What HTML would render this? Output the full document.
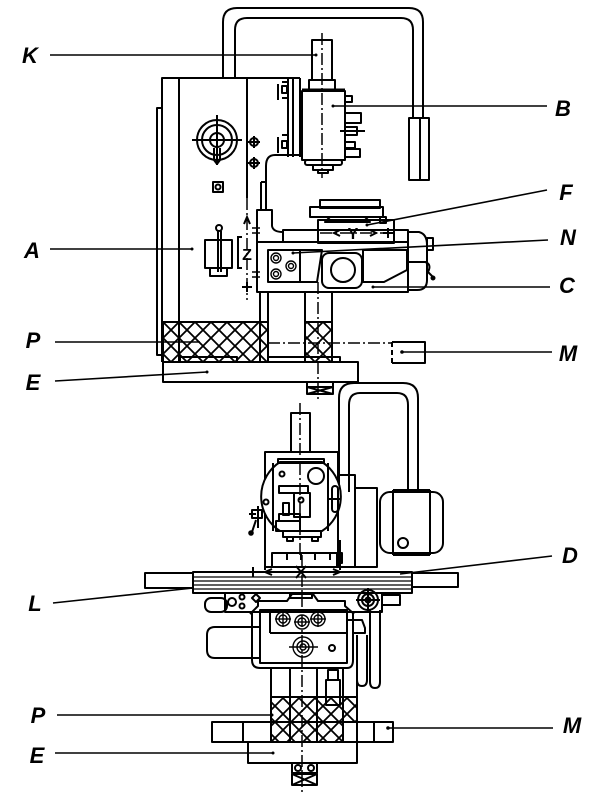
<!DOCTYPE html>
<html><head><meta charset="utf-8"><style>
html,body{margin:0;padding:0;background:#fff;}
svg{display:block;}
.l{font-family:"Liberation Sans",sans-serif;font-style:italic;font-weight:bold;font-size:22px;fill:#000;}
</style></head><body>
<svg width="600" height="800" viewBox="0 0 600 800" xmlns="http://www.w3.org/2000/svg">
<defs>
<pattern id="h" width="16" height="16" patternUnits="userSpaceOnUse" x="3" y="2">
<path d="M0,0 L16,16 M16,0 L0,16" stroke="#000" stroke-width="1.8"/>
</pattern>
</defs>
<g fill="none" stroke="#000" stroke-width="2" stroke-linejoin="round">
<!-- ===== TOP VIEW ===== -->
<path d="M223,78 V22 Q223,8 237,8 H409 Q423,8 423,22 V118"/>
<path d="M235,78 V30 Q235,18 247,18 H401 Q413,18 413,30 V118"/>
<rect x="409" y="118" width="20" height="62"/>
<line x1="420" y1="118" x2="420" y2="180"/>
<rect x="157" y="108" width="5" height="247"/>
<path d="M162,362 V78 H300"/>
<line x1="179" y1="78" x2="179" y2="362"/>
<line x1="247" y1="78" x2="247" y2="198"/>
<line x1="288" y1="78" x2="288" y2="157"/>
<line x1="293" y1="78" x2="293" y2="157"/>
<line x1="300" y1="78" x2="300" y2="157"/>
<path d="M282,82 H288 M278,84 V100 M282,98 H288"/>
<rect x="282" y="86" width="5" height="7"/>
<path d="M282,135 H288 M278,137 V153 M282,155 H288"/>
<rect x="282" y="141" width="5" height="7"/>
<path d="M300,155 H275 Q266,155 266,166 V210"/>
<line x1="261" y1="182" x2="261" y2="210"/>
<line x1="261" y1="182" x2="266" y2="182"/>
<rect x="312" y="40" width="20" height="40"/>
<rect x="309" y="80" width="26" height="10"/>
<line x1="302" y1="90" x2="345" y2="90" stroke-width="3"/>
<rect x="302" y="91" width="43" height="69"/>
<rect x="305" y="160" width="37" height="5" rx="2"/>
<rect x="313" y="165" width="20" height="5"/>
<rect x="318" y="170" width="10" height="3"/>
<rect x="345" y="96" width="7" height="6"/>
<rect x="345" y="113" width="16" height="10"/>
<rect x="345" y="127" width="12" height="8"/>
<line x1="340" y1="131" x2="365" y2="131"/>
<rect x="345" y="142" width="10" height="6"/>
<rect x="345" y="149" width="15" height="8"/>
<circle cx="217" cy="140" r="20"/>
<circle cx="217" cy="140" r="15"/>
<circle cx="217" cy="140" r="7"/>
<line x1="192" y1="140" x2="242" y2="140"/>
<line x1="217" y1="115" x2="217" y2="165"/>
<path d="M214,148 L214,160 L217,164 L220,160 L220,148"/>
<circle cx="254" cy="142" r="4"/>
<line x1="248" y1="142" x2="260" y2="142"/><line x1="254" y1="136" x2="254" y2="148"/>
<circle cx="254" cy="163" r="4"/>
<line x1="248" y1="163" x2="260" y2="163"/><line x1="254" y1="157" x2="254" y2="169"/>
<rect x="213" y="182" width="10" height="10"/>
<circle cx="218" cy="187" r="2.5"/>
<rect x="205" y="240" width="27" height="28"/>
<rect x="210" y="268" width="17" height="8"/>
<line x1="218" y1="231" x2="218" y2="272"/>
<line x1="221" y1="231" x2="221" y2="272"/>
<circle cx="219" cy="228" r="3"/>
<path d="M257,292 V210 H272 V226 Q273,232 283,232"/>
<rect x="283" y="230" width="125" height="12"/>
<rect x="257" y="242" width="151" height="50"/>
<path d="M408,232 H419 Q427,234 427,245 V280 Q427,290 417,290 H408"/>
<line x1="408" y1="262" x2="427" y2="262"/>
<rect x="427" y="238" width="6" height="12"/>
<path d="M425,262 Q432,264 428,272 L433,277"/>
<circle cx="433" cy="278" r="1.5" fill="#000"/>
<rect x="268" y="250" width="32" height="32"/>
<g stroke-width="1.4">
<circle cx="276" cy="258" r="5"/><circle cx="276" cy="258" r="2.5"/>
<circle cx="291" cy="266" r="5"/><circle cx="291" cy="266" r="2.5"/>
<circle cx="276" cy="274" r="5"/><circle cx="276" cy="274" r="2.5"/>
</g>
<path d="M300,250 H322 L317,282 H300"/>
<rect x="322" y="253" width="40" height="35" rx="7"/>
<circle cx="343" cy="270" r="12"/>
<path d="M363,250 H407 V270 L384,282 H363 Z"/>
<rect x="320" y="200" width="60" height="8"/>
<rect x="310" y="207" width="73" height="10"/>
<path d="M330,217 L325,222 H370 L365,217"/>
<rect x="318" y="220" width="76" height="23"/>
<rect x="380" y="217" width="6" height="6"/>
<rect x="305" y="292" width="27" height="70"/>
<rect x="305" y="322" width="27" height="40" fill="url(#h)"/>
<line x1="260" y1="292" x2="260" y2="362"/>
<line x1="268" y1="292" x2="268" y2="362"/>
<rect x="163" y="322" width="105" height="40" fill="url(#h)"/>
<rect x="180" y="357" width="57" height="5"/>
<rect x="268" y="357" width="72" height="5"/>
<rect x="163" y="362" width="195" height="20"/>
<rect x="307" y="382" width="26" height="5"/>
<path d="M307,387 H333 V394 H307 Z M307,387 L333,394 M333,387 L307,394"/>
<path d="M392,342 H425 V363 H392"/>
<line x1="392" y1="342" x2="392" y2="363" stroke-dasharray="5,3"/>
<!-- ===== BOTTOM VIEW ===== -->
<path d="M339,492 V398 Q339,383 354,383 H403 Q418,383 418,398 V492"/>
<path d="M349,492 V405 Q349,393 360,393 H397 Q408,393 408,405 V492"/>
<rect x="380" y="492" width="63" height="61" rx="10"/>
<line x1="393" y1="490" x2="393" y2="555"/>
<line x1="430" y1="490" x2="430" y2="555"/>
<path d="M393,490 H430 M393,555 H430"/>
<circle cx="403" cy="543" r="5"/>
<rect x="338" y="475" width="17" height="92"/>
<rect x="355" y="488" width="22" height="79"/>
<rect x="291" y="413" width="19" height="39"/>
<rect x="265" y="452" width="73" height="115"/>
<path d="M280,462 H322 A41,41 0 0,1 322,531 H280 A41,41 0 0,1 280,462 Z" fill="#fff"/>
<rect x="278" y="459" width="46" height="4"/>
<line x1="273" y1="463" x2="273" y2="531"/>
<line x1="328" y1="463" x2="328" y2="531"/>
<circle cx="282" cy="474" r="2.5"/>
<circle cx="316" cy="476" r="8"/>
<circle cx="266" cy="502" r="2.5"/>
<rect x="279" y="486" width="29" height="7"/>
<rect x="294" y="493" width="16" height="24"/>
<circle cx="301" cy="500" r="2.5"/>
<rect x="283" y="503" width="6" height="12"/>
<rect x="279" y="514" width="21" height="7"/>
<rect x="276" y="521" width="24" height="10"/>
<rect x="283" y="531" width="38" height="6"/>
<rect x="287" y="537" width="6" height="4"/>
<rect x="312" y="537" width="6" height="4"/>
<rect x="332" y="486" width="6" height="26" rx="3"/>
<line x1="328" y1="499" x2="341" y2="499"/>
<path d="M258,506 L258,528 M252,510 H262 V518 H252 Z M256,520 L252,532"/>
<circle cx="251" cy="533" r="1.8" fill="#000"/>
<line x1="249" y1="514" x2="256" y2="514"/>
<path d="M272,567 V553 H337 V567"/>
<path d="M287,553 V560 M301,553 V560 M315,553 V560 M330,553 V560"/>
<rect x="337" y="553" width="5" height="10"/>
<line x1="265" y1="528" x2="265" y2="570"/>
<line x1="340" y1="540" x2="340" y2="570"/>
<rect x="145" y="573" width="48" height="15"/>
<rect x="193" y="572" width="219" height="21"/>
<path d="M193,577 H412 M193,581 H412 M193,585 H412 M193,589 H412" stroke-width="1.2"/>
<rect x="412" y="573" width="46" height="14"/>
<path d="M225,593 V612 H382 V593"/>
<rect x="382" y="595" width="18" height="10"/>
<path d="M290,593 V598 H312 V593"/>
<rect x="205" y="598" width="22" height="14" rx="6"/>
<circle cx="232" cy="602" r="4"/>
<circle cx="242" cy="597" r="2.5"/>
<circle cx="242" cy="606" r="2.5"/>
<path d="M256,594 L260,598 L256,602 L252,598 Z"/>
<circle cx="368" cy="600" r="10"/><circle cx="368" cy="600" r="6"/><circle cx="368" cy="600" r="2.5"/>
<line x1="356" y1="600" x2="380" y2="600"/><line x1="368" y1="588" x2="368" y2="612"/>
<path d="M250,614 L258,606 V601 H287 L292,594 H313 L318,601 H345 V606 L354,614"/>
<path d="M252,612 V660 Q252,668 260,668 H347 Q353,668 353,660 V612"/>
<rect x="260" y="610" width="87" height="53"/>
<line x1="270" y1="633" x2="347" y2="633"/>
<line x1="270" y1="610" x2="270" y2="633"/>
<g stroke-width="1.4">
<circle cx="283" cy="619" r="7"/><circle cx="283" cy="619" r="4"/><line x1="275" y1="619" x2="291" y2="619"/><line x1="283" y1="611" x2="283" y2="627"/>
<circle cx="302" cy="622" r="7"/><circle cx="302" cy="622" r="4"/><line x1="294" y1="622" x2="310" y2="622"/>
<circle cx="318" cy="619" r="7"/><circle cx="318" cy="619" r="4"/><line x1="310" y1="619" x2="326" y2="619"/><line x1="318" y1="611" x2="318" y2="627"/>
<circle cx="303" cy="647" r="10"/><circle cx="303" cy="647" r="6"/><circle cx="303" cy="647" r="3"/>
<line x1="289" y1="647" x2="318" y2="647"/>
</g>
<circle cx="332" cy="648" r="3"/>
<path d="M347,620 H362 L365,628 V633 H353"/>
<path d="M260,627 H215 Q207,627 207,635 V650 Q207,658 215,658 H260"/>
<path d="M357,635 V680 Q357,686 362,686 Q367,686 367,680 V635"/>
<path d="M370,610 V682 Q370,688 375,688 Q380,688 380,682 V610"/>
<line x1="271" y1="668" x2="271" y2="742"/>
<line x1="290" y1="668" x2="290" y2="742"/>
<line x1="317" y1="668" x2="317" y2="742"/>
<line x1="343" y1="668" x2="343" y2="742"/>
<line x1="357" y1="668" x2="357" y2="722"/>
<rect x="328" y="670" width="10" height="10"/>
<rect x="326" y="680" width="14" height="25"/>
<rect x="271" y="697" width="72" height="45" fill="url(#h)"/>
<rect x="343" y="697" width="14" height="25" fill="url(#h)"/>
<rect x="212" y="722" width="181" height="20"/>
<line x1="243" y1="722" x2="243" y2="742"/>
<line x1="357" y1="722" x2="357" y2="742"/>
<line x1="374" y1="722" x2="374" y2="742"/>
<rect x="248" y="742" width="109" height="21"/>
<rect x="292" y="763" width="25" height="10"/>
<circle cx="298" cy="768" r="3"/><circle cx="311" cy="768" r="3"/>
<path d="M292,774 H317 V785 H292 Z M292,774 L317,785 M317,774 L292,785"/>
</g>
<g fill="none" stroke="#000" stroke-width="1.5" stroke-dasharray="12,3,2,3">
<line x1="322" y1="33" x2="322" y2="178"/>
<line x1="247" y1="198" x2="247" y2="300"/>
<line x1="318" y1="282" x2="318" y2="400"/>
<line x1="268" y1="343" x2="392" y2="343"/>
<line x1="300" y1="403" x2="300" y2="555"/>
<line x1="302" y1="555" x2="302" y2="792"/>
<line x1="320" y1="233" x2="395" y2="233"/>
<line x1="265" y1="572" x2="345" y2="572"/>
</g>
<g fill="none" stroke="#000" stroke-width="2">
<path d="M340,230 L334,233 L340,236"/>
<path d="M370,230 L376,233 L370,236"/>
<path d="M383,233 H393 M388,228 V238"/>
<path d="M244,224 L247,217 L250,224"/>
<path d="M242,287 H252 M247,282 V292"/>
<path d="M242,237 H238 V268 H242"/>
<path d="M252,228 H260 M252,233 H260 M252,272 H260 M252,277 H260" stroke-width="1.4"/>
<path d="M272,569 L265,572 L272,575"/>
<path d="M333,569 L340,572 L333,575"/>
<path d="M248,572 H258 M253,567 V577"/>
<path d="M296,566 L306,578 M306,566 L296,578"/>
</g>
<text x="353" y="239" font-family="Liberation Sans, sans-serif" font-weight="bold" font-size="16" text-anchor="middle">Y</text>
<text x="247" y="260" font-family="Liberation Sans, sans-serif" font-weight="bold" font-size="16" text-anchor="middle">Z</text>
<g stroke="#000" stroke-width="1.6" fill="none">
<line x1="50" y1="55" x2="316" y2="55"/>
<line x1="333" y1="106" x2="547" y2="106"/>
<line x1="50" y1="249" x2="192" y2="249"/>
<line x1="547" y1="190" x2="367" y2="225"/>
<line x1="548" y1="240" x2="293" y2="253"/>
<line x1="550" y1="287" x2="373" y2="287"/>
<line x1="55" y1="342" x2="200" y2="342"/>
<line x1="402" y1="352" x2="552" y2="352"/>
<line x1="55" y1="381" x2="207" y2="372"/>
<line x1="552" y1="556" x2="400" y2="574"/>
<line x1="53" y1="603" x2="193" y2="588"/>
<line x1="57" y1="715" x2="272" y2="715"/>
<line x1="388" y1="728" x2="553" y2="728"/>
<line x1="55" y1="753" x2="273" y2="753"/>
</g>
<g fill="#000">
<circle cx="316" cy="55" r="1.5"/><circle cx="333" cy="106" r="1.5"/><circle cx="192" cy="249" r="1.5"/>
<circle cx="367" cy="225" r="1.5"/><circle cx="293" cy="253" r="1.5"/><circle cx="373" cy="287" r="1.5"/>
<circle cx="402" cy="352" r="1.8"/><circle cx="207" cy="372" r="1.5"/><circle cx="388" cy="728" r="1.8"/>
<circle cx="272" cy="715" r="1.5"/><circle cx="273" cy="753" r="1.5"/>
</g>
<text class="l" x="30" y="63" text-anchor="middle">K</text>
<text class="l" x="563" y="116" text-anchor="middle">B</text>
<text class="l" x="566" y="200" text-anchor="middle">F</text>
<text class="l" x="32" y="258" text-anchor="middle">A</text>
<text class="l" x="568" y="245" text-anchor="middle">N</text>
<text class="l" x="567" y="293" text-anchor="middle">C</text>
<text class="l" x="33" y="348" text-anchor="middle">P</text>
<text class="l" x="568" y="361" text-anchor="middle">M</text>
<text class="l" x="33" y="390" text-anchor="middle">E</text>
<text class="l" x="570" y="563" text-anchor="middle">D</text>
<text class="l" x="35" y="611" text-anchor="middle">L</text>
<text class="l" x="38" y="723" text-anchor="middle">P</text>
<text class="l" x="572" y="733" text-anchor="middle">M</text>
<text class="l" x="37" y="763" text-anchor="middle">E</text>
</svg>
</body></html>
